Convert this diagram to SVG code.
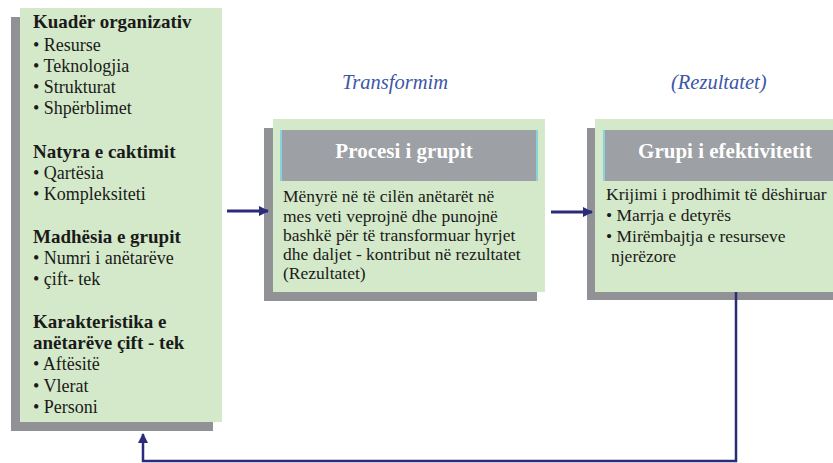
<svg xmlns="http://www.w3.org/2000/svg" width="833" height="463" viewBox="0 0 833 463">
  <style>
    .shadow { fill: #909296; }
    .panel { fill: #d4e9c9; }
    .head { fill: #9da0a4; }
    .edge { fill: #86d3dc; }
    .t { font-family: "Liberation Serif", "Times New Roman", serif; fill: #1a1a1a; font-size: 18px; }
    .b { font-weight: bold; font-size: 19px; }
    .title { font-family: "Liberation Serif", "Times New Roman", serif; font-weight: bold; font-size: 21px; fill: #ffffff; }
    .body { font-family: "Liberation Serif", "Times New Roman", serif; font-size: 17.5px; fill: #1a1a1a; }
    .lbl { font-family: "Liberation Serif", "Times New Roman", serif; font-style: italic; font-size: 20.5px; fill: #3d56a6; }
    .wire { stroke: #2b2b7c; fill: none; }
  </style>
  <defs>
    <marker id="tip" viewBox="0 0 10 10" refX="9" refY="5" markerWidth="10" markerHeight="10" markerUnits="userSpaceOnUse" orient="auto">
      <path d="M0,0 L10,5 L0,10 Z" fill="#2b2b7c"/>
    </marker>
  </defs>

  <!-- inputs panel -->
  <g id="inputs">
    <rect class="shadow" x="11" y="17" width="202" height="414"/>
    <rect class="panel" x="20" y="8" width="202" height="414"/>
    <text class="t b" x="33" y="28">Kuadër organizativ</text>
    <text class="t" x="33" y="51">• Resurse</text>
    <text class="t" x="33" y="72">• Teknologjia</text>
    <text class="t" x="33" y="93">• Strukturat</text>
    <text class="t" x="33" y="114">• Shpërblimet</text>
    <text class="t b" x="33" y="158">Natyra e caktimit</text>
    <text class="t" x="33" y="179">• Qartësia</text>
    <text class="t" x="33" y="200">• Kompleksiteti</text>
    <text class="t b" x="33" y="243">Madhësia e grupit</text>
    <text class="t" x="33" y="264">• Numri i anëtarëve</text>
    <text class="t" x="33" y="285">• çift- tek</text>
    <text class="t b" x="33" y="328">Karakteristika e</text>
    <text class="t b" x="33" y="349">anëtarëve çift - tek</text>
    <text class="t" x="33" y="370">• Aftësitë</text>
    <text class="t" x="33" y="392">• Vlerat</text>
    <text class="t" x="33" y="413">• Personi</text>
  </g>

  <!-- group process -->
  <g id="process">
    <rect class="shadow" x="264" y="128" width="273" height="173"/>
    <rect class="panel" x="273" y="119" width="272" height="173"/>
    <rect class="edge" x="280" y="130" width="258" height="51"/>
    <rect class="head" x="282" y="130" width="254" height="51"/>
    <text class="title" x="404" y="158" text-anchor="middle">Procesi i grupit</text>
    <text class="body" x="283" y="202">Mënyrë në të cilën anëtarët në</text>
    <text class="body" x="283" y="222">mes veti veprojnë dhe punojnë</text>
    <text class="body" x="283" y="241">bashkë për të transformuar hyrjet</text>
    <text class="body" x="283" y="260">dhe daljet - kontribut në rezultatet</text>
    <text class="body" x="283" y="279">(Rezultatet)</text>
  </g>

  <!-- group effectiveness -->
  <g id="effectiveness">
    <rect class="shadow" x="587" y="128" width="246" height="172"/>
    <rect class="panel" x="595" y="119" width="238" height="173"/>
    <rect class="edge" x="603" y="130" width="230" height="51"/>
    <rect class="head" x="605" y="130" width="228" height="51"/>
    <text class="title" x="725" y="158" text-anchor="middle">Grupi i efektivitetit</text>
    <text class="body" x="606" y="200">Krijimi i prodhimit të dëshiruar</text>
    <text class="body" x="606" y="221">• Marrja e detyrës</text>
    <text class="body" x="606" y="242">• Mirëmbajtja e resurseve</text>
    <text class="body" x="611" y="262">njerëzore</text>
  </g>

  <!-- labels above the flow -->
  <text class="lbl" x="342" y="89">Transformim</text>
  <text class="lbl" x="671" y="89">(Rezultatet)</text>

  <!-- connectors -->
  <g id="connectors">
    <line class="wire" x1="227" y1="211" x2="268" y2="211" stroke-width="3" marker-end="url(#tip)"/>
    <line class="wire" x1="551" y1="212" x2="592" y2="212" stroke-width="3" marker-end="url(#tip)"/>
    <polyline class="wire" points="736,292 736,461 143,461 143,434" stroke-width="2.5" marker-end="url(#tip)"/>
  </g>
</svg>
